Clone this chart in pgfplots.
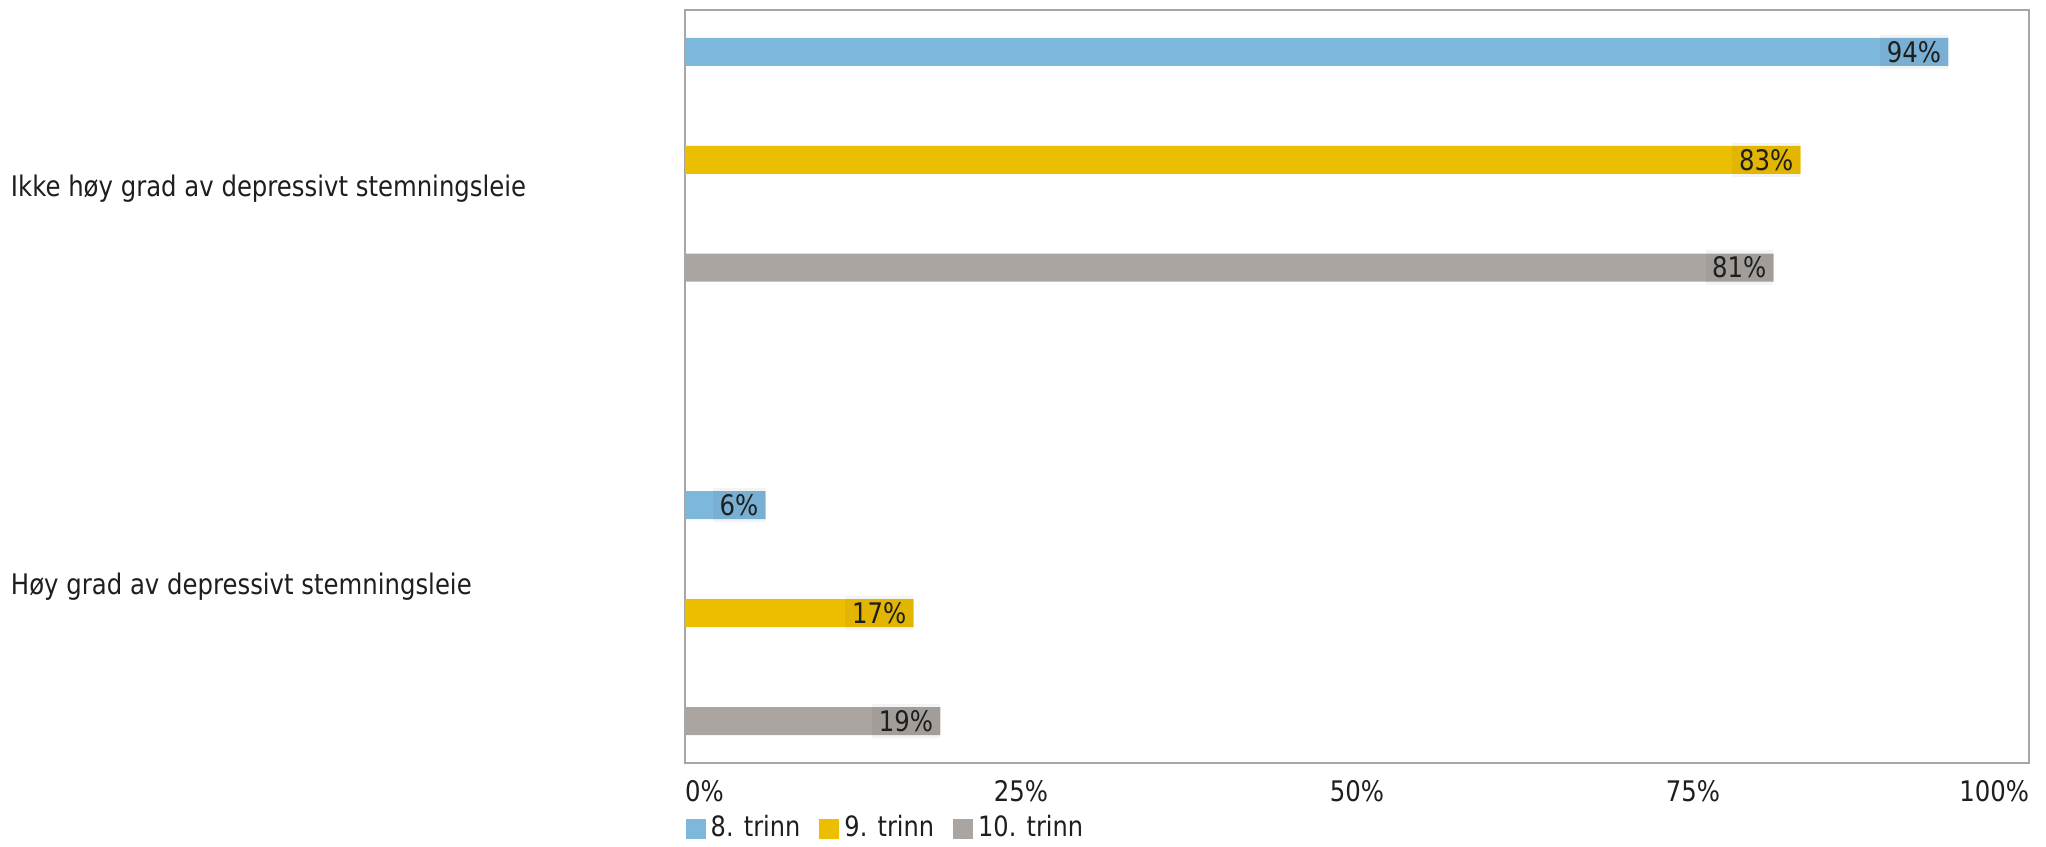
\documentclass[border=0pt]{standalone}
\usepackage{pgfplots}
\pgfplotsset{compat=1.18}
\usepackage{fontspec}
\setmainfont[FakeStretch=0.86]{DejaVu Sans}
\definecolor{c8}{RGB}{126,183,220}
\definecolor{c9}{RGB}{236,190,0}
\definecolor{c10}{RGB}{170,165,160}
\definecolor{txt}{RGB}{30,30,30}
\pgfplotsset{
  mybar/.style={xbar, bar width=28, bar shift=0pt, draw=none, fill=#1,
    legend image code/.code={\fill[#1] (0pt,-3pt) rectangle (6pt,3pt);}},
}
\begin{document}
\begin{tikzpicture}[font=\fontsize{8.5}{10}\selectfont]
\begin{axis}[
  scale only axis, width=403.2pt, height=225.9pt,
  xmin=0, xmax=100, ymin=0, ymax=753,
  axis line style={draw=black!35, line width=0.6pt},
  xtick={0,25,50,75,100},
  xticklabels={\rlap{0\%},25\%,50\%,75\%,\llap{100\%}},
  xticklabel style={anchor=north, inner sep=0pt, yshift=-5pt, text=txt},
  major tick length=0pt,
  ytick=\empty,
  clip=false,
  /pgf/number format/assume math mode=true,
  legend style={at={(0,-0.087)}, anchor=west, draw=none, fill=none,
    inner xsep=0pt, inner ysep=0pt, legend columns=-1, text=txt,
    font=\fontsize{8.4}{9}\selectfont,
    nodes={inner sep=1.5pt},
    /tikz/every even column/.append style={column sep=4.2pt}},
  point meta=x,
  nodes near coords={\pgfmathprintnumber{\pgfplotspointmeta}\%},
  every node near coord/.append style={anchor=east, text=txt, inner sep=2pt,
    fill=black, fill opacity=0.045, text opacity=1},
]
\addplot[mybar=c8] coordinates {(94,711) (6,258)};
\addlegendentry{8. trinn}
\addplot[mybar=c9] coordinates {(83,603) (17,150)};
\addlegendentry{9. trinn}
\addplot[mybar=c10] coordinates {(81,495.5) (19,42)};
\addlegendentry{10. trinn}
\node[anchor=west, inner sep=0pt, text=txt] at (axis cs:-50.2,574) {Ikke høy grad av depressivt stemningsleie};
\node[anchor=west, inner sep=0pt, text=txt] at (axis cs:-50.2,176) {Høy grad av depressivt stemningsleie};
\path (axis cs:-50.97,-82) rectangle (axis cs:101.26,763);
\end{axis}
\end{tikzpicture}
\end{document}
